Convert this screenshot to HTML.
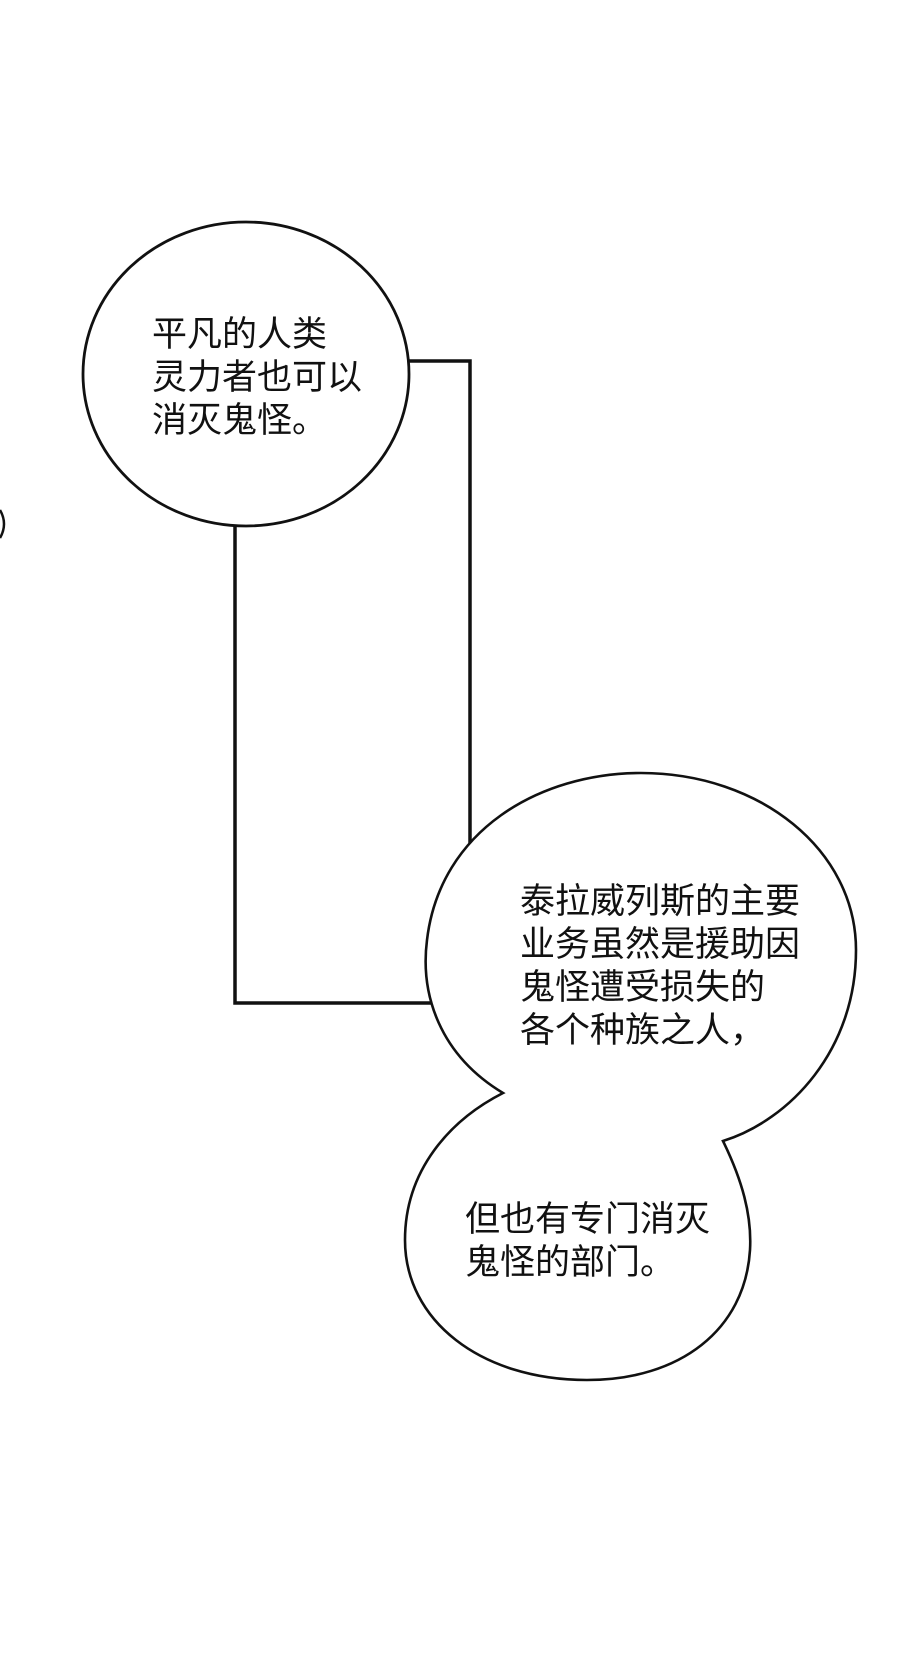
<!DOCTYPE html>
<html><head><meta charset="utf-8"><style>
html,body{margin:0;padding:0;background:#fff;}
body{width:900px;height:1657px;position:relative;overflow:hidden;}
.t{position:absolute;font-family:"Liberation Sans","Noto Sans CJK SC",sans-serif;font-size:35px;line-height:43px;color:#111;white-space:nowrap;}
</style></head><body>
<svg width="900" height="1657" style="position:absolute;left:0;top:0">
<path d="M405,361 L470,361 L470,860" fill="none" stroke="#111" stroke-width="3.5"/>
<path d="M235,500 L235,1003 L440,1003" fill="none" stroke="#111" stroke-width="3.5"/>
<ellipse cx="246" cy="374" rx="163" ry="152" fill="#fff" stroke="#111" stroke-width="2.8"/>
<path d="M503,1093 C440,1055 420,995 427,940 C440,830 540,773 641,773 C760,773 856,850 856,950 C856,1050 790,1120 723,1141 C742,1180 752,1215 750,1250 C745,1330 680,1380 587,1380 C480,1380 405,1320 405,1240 C405,1170 450,1120 503,1093 Z" fill="#fff" stroke="#111" stroke-width="2.6"/>
<path d="M0,510 Q8,524 0,538" fill="none" stroke="#111" stroke-width="2.5"/>
</svg>
<div class="t" style="left:152px;top:313px">平凡的人类<br>灵力者也可以<br>消灭鬼怪。</div>
<div class="t" style="left:520px;top:880px">泰拉威列斯的主要<br>业务虽然是援助因<br>鬼怪遭受损失的<br>各个种族之人，</div>
<div class="t" style="left:465px;top:1198px">但也有专门消灭<br>鬼怪的部门。</div>
</body></html>
